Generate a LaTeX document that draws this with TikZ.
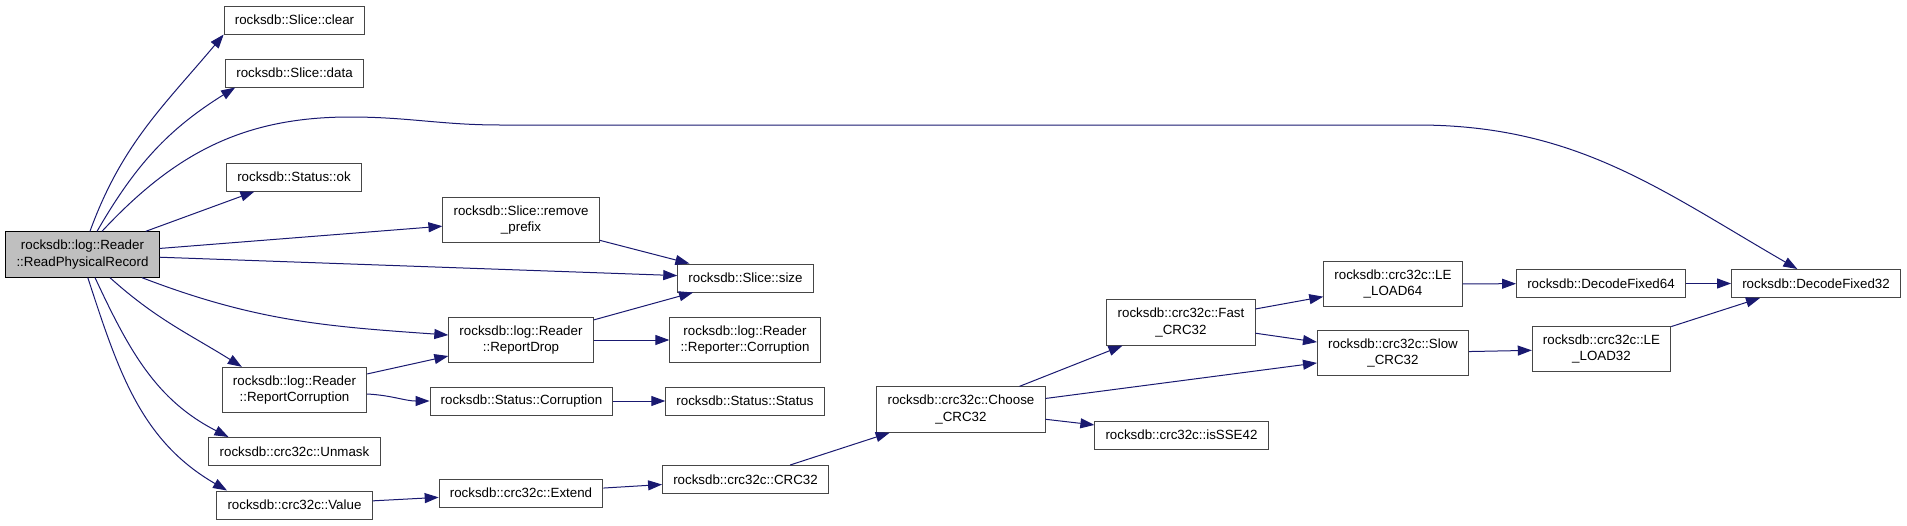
\documentclass[tikz,border=0pt]{standalone}
\usepackage{fontspec}
\setmainfont{Liberation Sans}
\usepackage{xcolor}
\usepackage{tikz}
\usetikzlibrary{arrows.meta}
\definecolor{callblue}{RGB}{25,25,112}
\definecolor{rootgray}{RGB}{191,191,191}
\definecolor{boxline}{RGB}{70,70,70}
\tikzset{
  fn/.style={rectangle, draw=boxline, fill=white, line width=0.75pt,
    font=\fontsize{10}{12.6}\selectfont, align=center,
    inner xsep=8pt, inner ysep=3pt, minimum height=21pt},
  fntwo/.style={fn, minimum height=34pt},
  root/.style={fntwo, fill=rootgray, draw=black},
  call/.style={-{Triangle[length=10.5pt, width=7.5pt]}, line width=0.75pt, color=callblue},
}

\begin{document}
\begin{tikzpicture}[x=0.75pt, y=0.75pt]
\useasboundingbox (0,0) rectangle (1907,-525);

\node[root] (rpr) at (82.5,-254.5) {rocksdb::log::Reader\\::ReadPhysicalRecord};

\node[fn] (clear) at (294.5,-20) {rocksdb::Slice::clear};
\node[fn] (data) at (294.5,-73) {rocksdb::Slice::data};
\node[fn] (ok) at (294,-177) {rocksdb::Status::ok};
\node[fntwo] (repcorr) at (294.5,-390) {rocksdb::log::Reader\\::ReportCorruption};
\node[fn] (unmask) at (294.5,-451.5) {rocksdb::crc32c::Unmask};
\node[fn] (value) at (294.5,-505) {rocksdb::crc32c::Value};

\node[fntwo] (rmpre) at (521,-220) {rocksdb::Slice::remove\\\_prefix};
\node[fntwo] (rdrop) at (521,-340) {rocksdb::log::Reader\\::ReportDrop};
\node[fn] (stcorr) at (521.5,-401) {rocksdb::Status::Corruption};
\node[fn] (extend) at (521,-493) {rocksdb::crc32c::Extend};

\node[fn] (size) at (745.5,-278) {rocksdb::Slice::size};
\node[fntwo] (repc) at (745,-340) {rocksdb::log::Reader\\::Reporter::Corruption};
\node[fn] (ststat) at (745,-401) {rocksdb::Status::Status};
\node[fn] (crc) at (745.5,-479.5) {rocksdb::crc32c::CRC32};

\node[fntwo] (choose) at (961,-409.5) {rocksdb::crc32c::Choose\\\_CRC32};
\node[fntwo] (fast) at (1181,-322.5) {rocksdb::crc32c::Fast\\\_CRC32};
\node[fn] (sse) at (1181.5,-435) {rocksdb::crc32c::isSSE42};
\node[fntwo] (le64) at (1393,-284) {rocksdb::crc32c::LE\\\_LOAD64};
\node[fntwo] (slow) at (1393,-353) {rocksdb::crc32c::Slow\\\_CRC32};
\node[fn] (df64) at (1601,-283.5) {rocksdb::DecodeFixed64};
\node[fntwo] (le32) at (1601.5,-349) {rocksdb::crc32c::LE\\\_LOAD32};
\node[fn] (df32) at (1816,-283.5) {rocksdb::DecodeFixed32};

\draw[call] ([xshift=5.6pt]rpr.north) to[out=70,in=-130] (clear.south west);
\draw[call] ([xshift=10.9pt]rpr.north) to[out=60,in=-148] ([xshift=7.5pt]data.south west);
\draw[call] ([xshift=14.6pt]rpr.north) to[out=47,in=180] (350,-117) to[out=0,in=180] (500,-125)
  -- (1417,-125) to[out=0,in=150] ([xshift=-14pt]df32.north);
\draw[call] (rpr) -- (ok);
\draw[call] (rpr) -- (rmpre);
\draw[call] (rpr) -- (size);
\draw[call] ([xshift=44.6pt]rpr.south) to[out=-21,in=176] ([yshift=3.75pt]rdrop.west);
\draw[call] ([xshift=20.6pt]rpr.south) to[out=-42,in=148] ([xshift=15pt]repcorr.north west);
\draw[call] ([xshift=9.4pt]rpr.south) to[out=-65,in=153] ([xshift=15pt]unmask.north west);
\draw[call] ([xshift=4pt]rpr.south) to[out=-72,in=150] ([xshift=8pt]value.north west);

\draw[call] (rmpre) -- (size);
\draw[call] (rdrop) -- (size);
\draw[call] (rdrop) -- (repc);
\draw[call] (repcorr) -- (rdrop);
\draw[call] ([yshift=-3pt]repcorr.east) to[out=-3,in=180] (stcorr.west);
\draw[call] (stcorr) -- (ststat);
\draw[call] (value) -- (extend);
\draw[call] (extend) -- (crc);
\draw[call] (crc) -- (choose);
\draw[call] (choose) -- (fast);
\draw[call] (choose) -- (slow);
\draw[call] (choose) -- (sse);
\draw[call] (fast) -- (le64);
\draw[call] (fast) -- (slow);
\draw[call] (le64) -- (df64);
\draw[call] (slow) -- (le32);
\draw[call] (df64) -- (df32);
\draw[call] (le32) -- ([xshift=-42pt]df32.south);
\end{tikzpicture}
\end{document}
